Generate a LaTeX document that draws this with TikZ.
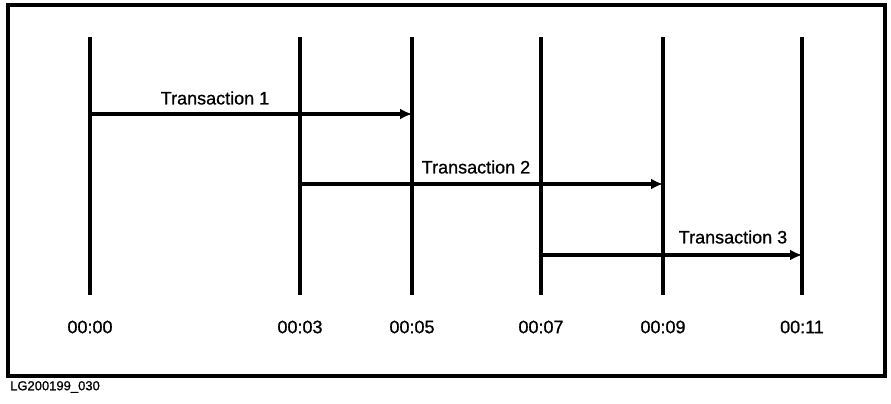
\documentclass[tikz,border=0pt]{standalone}
\usepackage{fontspec}
\setmainfont{Liberation Sans}[FakeBold=0.9]
\usetikzlibrary{arrows.meta}
\begin{document}
\begin{tikzpicture}[x=1pt,y=-1pt,
  tick/.style={line width=3.2pt},
  txarrow/.style={line width=3.2pt,-{Latex[length=12pt,width=11pt]}},
  lbl/.style={font=\fontsize{18}{20}\selectfont,inner sep=0pt},
  small/.style={font=\fontsize{13}{15}\selectfont,inner sep=0pt,anchor=west}]
\useasboundingbox (0,0) rectangle (891,404);
\draw[line width=3.2pt] (8,5) rectangle (885,376);
\foreach \n/\x/\t in {a/90/00:00,b/300/00:03,c/412/00:05,d/541/00:07,e/663/00:09,f/802/00:11}{
  \coordinate (\n top) at (\x,37);
  \coordinate (\n bot) at (\x,295);
  \draw[tick] (\n top) -- (\n bot);
  \node[lbl] (\n lab) at (\x,327) {\t};
}
\coordinate (t1s) at (90,114);  \coordinate (t1e) at (412,114);
\coordinate (t2s) at (300,184); \coordinate (t2e) at (663,184);
\coordinate (t3s) at (541,255); \coordinate (t3e) at (802,255);
\draw[txarrow] (t1s) -- (t1e);
\draw[txarrow] (t2s) -- (t2e);
\draw[txarrow] (t3s) -- (t3e);
\node[lbl] (tx1) at (215,98) {Transaction 1};
\node[lbl] (tx2) at (476,167) {Transaction 2};
\node[lbl] (tx3) at (733,237) {Transaction 3};
\node[small] (id) at (10,387) {LG200199\_030};
\end{tikzpicture}
\end{document}
